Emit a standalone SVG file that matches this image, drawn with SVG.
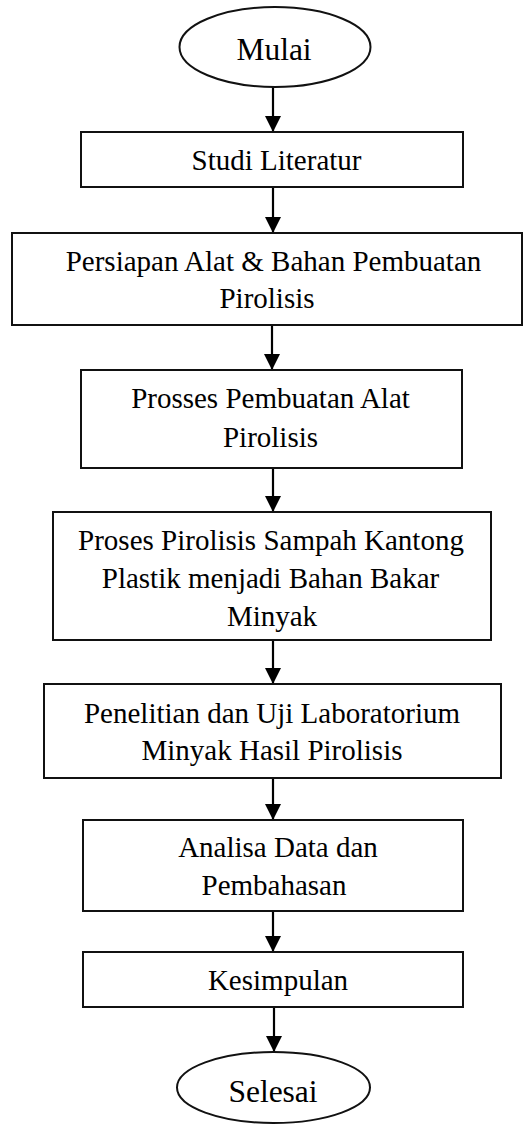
<svg xmlns="http://www.w3.org/2000/svg" width="526" height="1124" viewBox="0 0 526 1124">
<style>
.box{fill:#fff;stroke:#111;stroke-width:2}
.t{font-family:"Liberation Serif","Times New Roman",serif;font-size:29px;fill:#000;text-anchor:middle}
.te{font-family:"Liberation Serif","Times New Roman",serif;font-size:31.5px;fill:#000;text-anchor:middle}
.c{stroke:#000;stroke-width:2.2;fill:none;marker-end:url(#ah)}
</style>
<defs>
<marker id="ah" markerUnits="userSpaceOnUse" markerWidth="16" markerHeight="16" refX="16" refY="8" orient="auto">
<path d="M0,0 L16,8 L0,16 z" fill="#000"/>
</marker>
</defs>
<rect width="526" height="1124" fill="#fff"/>
<g id="connectors">
<line class="c" x1="273" y1="87" x2="273" y2="132"/>
<line class="c" x1="273" y1="187" x2="273" y2="233"/>
<line class="c" x1="272" y1="325" x2="272" y2="370"/>
<line class="c" x1="273" y1="468" x2="273" y2="512"/>
<line class="c" x1="273" y1="640" x2="273" y2="684"/>
<line class="c" x1="273" y1="778" x2="273" y2="820"/>
<line class="c" x1="273" y1="911" x2="273" y2="952"/>
<line class="c" x1="274" y1="1007" x2="274" y2="1052"/>
</g>
<g id="mulai">
<ellipse class="box" cx="275" cy="47" rx="95.5" ry="40"/>
<text class="te" x="274" y="60">Mulai</text>
</g>
<g id="studi">
<rect class="box" x="81" y="132" width="382" height="55"/>
<text class="t" x="276.5" y="169.5">Studi Literatur</text>
</g>
<g id="persiapan">
<rect class="box" x="12" y="233" width="510" height="92"/>
<text class="t" x="273.5" y="271">Persiapan Alat &amp; Bahan Pembuatan</text>
<text class="t" x="267" y="308">Pirolisis</text>
</g>
<g id="prosses">
<rect class="box" x="81" y="370" width="381" height="98"/>
<text class="t" x="270.5" y="408">Prosses Pembuatan Alat</text>
<text class="t" x="270.5" y="447">Pirolisis</text>
</g>
<g id="proses">
<rect class="box" x="53" y="512" width="438" height="128"/>
<text class="t" x="271" y="550">Proses Pirolisis Sampah Kantong</text>
<text class="t" x="270.5" y="588">Plastik menjadi Bahan Bakar</text>
<text class="t" x="272" y="626">Minyak</text>
</g>
<g id="penelitian">
<rect class="box" x="44" y="684" width="457" height="94"/>
<text class="t" x="272" y="723">Penelitian dan Uji Laboratorium</text>
<text class="t" x="272" y="760">Minyak Hasil Pirolisis</text>
</g>
<g id="analisa">
<rect class="box" x="83" y="820" width="380" height="91"/>
<text class="t" x="278" y="857">Analisa Data dan</text>
<text class="t" x="274" y="895">Pembahasan</text>
</g>
<g id="kesimpulan">
<rect class="box" x="83" y="952" width="380" height="55"/>
<text class="t" x="278" y="990">Kesimpulan</text>
</g>
<g id="selesai">
<ellipse class="box" cx="273.5" cy="1087.5" rx="96.5" ry="35.5"/>
<text class="te" x="273" y="1101.5">Selesai</text>
</g>
</svg>
